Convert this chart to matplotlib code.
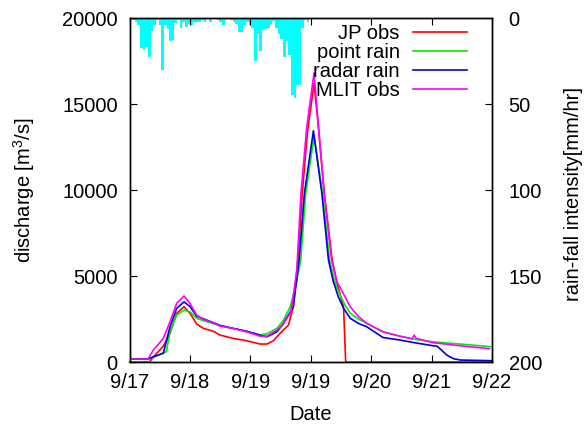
import numpy as np
import matplotlib
matplotlib.use('Agg')
import matplotlib.pyplot as plt

plt.rcParams['font.family'] = ['Liberation Sans', 'DejaVu Sans']
plt.rcParams['mathtext.fontset'] = 'custom'
plt.rcParams['mathtext.rm'] = 'Liberation Sans'

# time axis in hours from the left edge
x_max = 137
tick_labels = ['9/17', '9/18', '9/19', '9/19', '9/20', '9/21', '9/22']

# hourly rainfall [mm/hr], starting at hour 1
rain = [1, 2.5, 4, 17.6, 18.4, 16.7, 22.5, 7.4, 4, 1, 4, 30.4, 4, 6.4, 13.2, 12.8,
        3, 1, 5.6, 2.5, 5, 3.5,
        4, 2.5, 2.5, 2, 1, 2, 0.5, 2, 0.5, 0.5, 1, 2, 4, 1, 0.5, 1, 2.5, 3.5,
        8, 8.3, 4, 2.5,
        4, 6, 24.8, 9, 19, 7, 6.4, 5.5, 3.5, 1.5, 6, 9, 12, 22.5, 13.4, 21.5,
        44.8, 46.5, 39, 39, 6, 1, 2]

# JP obs
jp_t = [0, 7.5, 10.2, 12.8, 15.3, 17.8, 20.6, 22.9, 25.4, 27.9, 31.7, 34.2, 39.1,
        44.3, 49.3, 51.9, 54.4, 56.9, 60.1, 61.9, 63.6, 65.3, 67.2, 69.75, 71.4,
        73.6, 76.6, 78.6, 80.9, 81.7, 137]
jp_q = [0, 0, 500, 930, 1670, 2830, 3220, 2830, 2210, 1960, 1790, 1570, 1380,
        1240, 1050, 1050, 1240, 1670, 2150, 3220, 5930, 9800, 13300, 16200, 13680,
        9800, 5930, 4500, 3200, 0, 0]

# point rain
pt_t = [0, 7, 9, 13.9, 15.3, 17.8, 20.6, 22.9, 25.4, 31.7, 34.2, 39.1, 44.3, 49.3,
        51.9, 55.7, 58.1, 60.7, 62.7, 64.7, 66.6, 69.75, 73.0, 75.6, 77.5, 79.3,
        81.5, 83.4, 86.5, 89.7, 95.8, 102.3, 107.2, 114.7, 125, 137]
pt_q = [175, 175, 270, 600, 1760, 2730, 3020, 2920, 2540, 2230, 2130, 1960, 1790,
        1570, 1640, 1960, 2420, 3200, 4300, 5930, 9800, 13140, 9800, 5930, 4700,
        3990, 3300, 2850, 2500, 2250, 1760, 1500, 1340, 1180, 1050, 890]

# radar rain
rd_t = [0, 7, 9, 12.8, 15.3, 17.8, 20.6, 22.9, 25.4, 31.7, 34.2, 39.1, 44.3, 49.3,
        51.9, 55.7, 58.1, 60.7, 61.9, 64.1, 66.1, 69.5, 72.7, 75.2, 77.0, 78.9,
        81.0, 83.4, 86.5, 89.7, 95.8, 102.3, 107.2, 114.7, 116.3, 120, 122.4, 125, 137]
rd_q = [175, 175, 310, 520, 2050, 3120, 3500, 3220, 2670, 2290, 2130, 1960, 1790,
        1570, 1470, 1760, 2230, 2910, 3220, 5930, 9800, 13450, 9800, 5930, 4700,
        3800, 3100, 2550, 2250, 2050, 1430, 1280, 1140, 950, 920, 400, 200, 120, 80]

# MLIT obs
ml_t = [0, 7, 9, 12.8, 15.3, 17.8, 20.6, 22.9, 25.4, 27.9, 31.7, 34.2, 39.1, 44.3,
        49.3, 51.9, 55.7, 58.1, 60.7, 61.3, 63.2, 64.8, 67.0, 69.75, 71.4, 73.6,
        76.4, 78.3, 80.8, 83.4, 86.5, 89.7, 95.8, 102.3, 106.8, 107.6, 108.3,
        114.7, 125, 136]
ml_q = [175, 175, 700, 1380, 2340, 3410, 3840, 3400, 2730, 2480, 2290, 2090, 1960,
        1760, 1510, 1500, 1860, 2210, 2830, 3220, 5300, 9800, 13680, 16820, 13680,
        9800, 5930, 4700, 3990, 3220, 2650, 2250, 1760, 1500, 1360, 1570, 1380,
        1130, 950, 780]

fig = plt.figure(figsize=(5.86, 4.24), dpi=100)
ax = fig.add_axes([0.221, 0.146, 0.6186, 0.8114])
ax2 = ax.twinx()

# rainfall bars hang from the top (inverted right axis)
hours = np.arange(1, 1 + len(rain))
ax2.bar(hours, rain, width=1, align='edge', color='#00ffff', linewidth=0)
ax2.set_ylim(200, 0)
ax2.set_yticks([0, 50, 100, 150, 200])
ax2.tick_params(direction='in', length=5, labelsize=14.5, pad=12)
ax2.set_ylabel('rain-fall intensity[mm/hr]', fontsize=14.5)
ax2.yaxis.set_label_coords(1.198, 0.49)

# discharge lines drawn above the bars
ax.set_zorder(ax2.get_zorder() + 1)
ax.patch.set_visible(False)
lw = 1.2
ax.plot(jp_t, jp_q, color='#ff0000', lw=lw, label='JP obs', clip_on=False)
ax.plot(pt_t, pt_q, color='#00ee00', lw=lw, label='point rain')
ax.plot(rd_t, rd_q, color='#0000dd', lw=lw, label='radar rain')
ax.plot(ml_t, ml_q, color='#ff00ff', lw=lw, label='MLIT obs')

ax.set_xlim(0, x_max)
ax.set_ylim(0, 20000)
ax.set_xticks(np.linspace(0, x_max, len(tick_labels)))
ax.set_xticklabels(tick_labels)
ax.set_yticks([0, 5000, 10000, 15000, 20000])
ax.tick_params(direction='in', length=5, labelsize=14.5, top=True)
ax.tick_params(axis='x', pad=8)
ax.tick_params(axis='y', pad=8.5)
ax.set_xlabel('Date', fontsize=14.5)
ax.xaxis.set_label_coords(0.5, -0.125)
ax.set_ylabel('discharge [m$^{\\mathregular{3}}$/s]', fontsize=14.5)
ax.yaxis.set_label_coords(-0.255, 0.5)

for a in (ax, ax2):
    for s in a.spines.values():
        s.set_linewidth(1.0)

leg = ax.legend(loc='upper right', bbox_to_anchor=(0.931, 0.982), frameon=False,
                markerfirst=False, fontsize=14.5, handlelength=2.7,
                handletextpad=0.64, labelspacing=0.0, borderaxespad=0, borderpad=0)

fig.savefig('out.png', dpi=100)
